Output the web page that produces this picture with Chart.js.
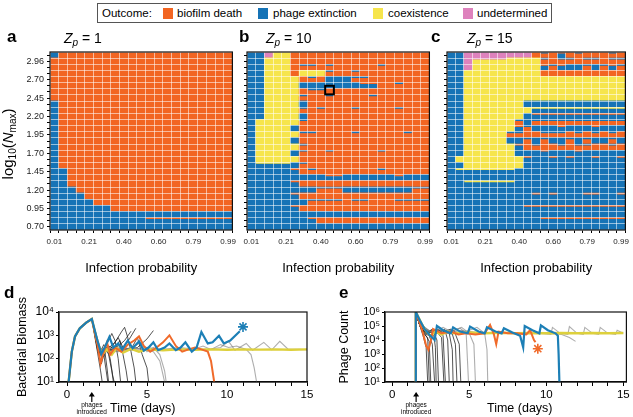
<!DOCTYPE html>
<html>
<head>
<meta charset="utf-8">
<title>Phage outcome maps</title>
<script src="https://cdn.jsdelivr.net/npm/chart.js@4.4.1/dist/chart.umd.min.js"></script>
<style>
  body { margin:0; width:633px; height:417px; position:relative; overflow:hidden; background:#fff;
         font-family:"Liberation Sans", Arial, sans-serif; color:#000; }
  canvas { position:absolute; }
  .txt { position:absolute; white-space:nowrap; line-height:1; }
  .panel { font-weight:bold; font-size:17px; }
  .zt { font-size:14px; }
  .zt sub, .ylab sub { font-size:10px; vertical-align:-3px; }
  .ylab { font-size:15px; width:130px; text-align:center; transform:rotate(-90deg); }
  .tt { font-size:12.5px; }
  #legend { position:absolute; border:1px solid #555; box-sizing:border-box; }
  #legend span { position:absolute; top:3px; font-size:11.5px; white-space:nowrap; }
  #legend i { position:absolute; top:4px; width:10px; height:11px; }
</style>
</head>
<body>
<canvas id="heatA" width="240" height="250" style="left:0;top:30px"></canvas>
<canvas id="heatB" width="240" height="250" style="left:197px;top:30px"></canvas>
<canvas id="heatC" width="236" height="250" style="left:397px;top:30px"></canvas>
<canvas id="biomass" width="316" height="127" style="left:0;top:290px"></canvas>
<canvas id="phages" width="317" height="127" style="left:316px;top:290px"></canvas>

<div id="legend" style="left:97px;top:3px;width:455px;height:20px">
  <span style="left:4px">Outcome:</span>
  <i style="left:65px;background:#f26522"></i><span style="left:79px">biofilm death</span>
  <i style="left:160px;background:#1673b6"></i><span style="left:175px">phage extinction</span>
  <i style="left:275px;background:#f6e54c"></i><span style="left:290px">coexistence</span>
  <i style="left:365px;background:#de82bd"></i><span style="left:379px">undetermined</span>
</div>

<div class="txt panel" style="left:7px;top:28px">a</div>
<div class="txt panel" style="left:239px;top:28px">b</div>
<div class="txt panel" style="left:431px;top:28px">c</div>
<div class="txt zt" style="left:64px;top:31px"><i>Z</i><sub><i>p</i></sub> = 1</div>
<div class="txt zt" style="left:266px;top:31px"><i>Z</i><sub><i>p</i></sub> = 10</div>
<div class="txt zt" style="left:467px;top:31px"><i>Z</i><sub><i>p</i></sub> = 15</div>
<div class="txt ylab" style="left:-56px;top:135px">log<sub>10</sub>(<i>N</i><sub>max</sub>)</div>

<div class="txt panel" style="left:4px;top:284px">d</div>
<div class="txt panel" style="left:339px;top:284px">e</div>
<div class="txt tt" style="left:110px;top:402px">Time (days)</div>
<div class="txt tt" style="left:487px;top:402px">Time (days)</div>

<script>
// ---- heat maps -------------------------------------------------------
// columns = infection probability, rows = log10(Nmax), top row first
const probCats = ['0.01','0.06','0.11','0.16','0.21','0.26','0.30','0.35','0.40','0.45','0.50',
                  '0.55','0.60','0.65','0.70','0.75','0.79','0.84','0.89','0.94','0.99'];
const xTickLabels = ['0.01','0.21','0.40','0.60','0.79','0.99'];
const yTickLabels = ['0.70','0.95','1.20','1.45','1.70','1.95','2.20','2.45','2.70','2.96'];

// o = biofilm death, b = phage extinction, y = coexistence, p = undetermined
// upper case = cell split between two outcomes (lower part / upper strip)
const mixedCells = { O: 'ob', B: 'bo', Y: 'yb', W: 'by', P: 'yp' };

const outcomesZ1 = [
  'boooooooooooooooooooo',
  'ooooooooooooooooooooo',
  'ooooooooooooooooooooo',
  'ooooooooooooooooooooo',
  'ooooooooooooooooooooo',
  'ooooooooooooooooooooo',
  'ooooooooooooooooooooo',
  'ooooooooooooooooooooo',
  'boooooooooooooooooooo',
  'boooooooooooooooooooo',
  'boooooooooooooooooooo',
  'boooooooooooooooooooo',
  'boooooooooooooooooooo',
  'boooooooooooooooooooo',
  'boooooooooooooooooooo',
  'boooooooooooooooooooo',
  'boooooooooooooooooooo',
  'boooooooooooooooooooo',
  'boooooooooooooooooooo',
  'bbooooooooooooooooooo',
  'bbooooooooooooooooooo',
  'bbooooooooooooooooooo',
  'bbboooooooooooooooooo',
  'bbbbooooooooooooooooo',
  'bbbbboooooooooooooooo',
  'bbbbbbboooooooooooooo',
  'bbbbbbbbbbbbbbbbbbbbb',
  'bbbbbbbbbbbBBBBBBBBBB',
  'bbbbbbbbbbbbbbbbbbbbb'
];

const outcomesZ10 = [
  'bbpyyoooooooooooooooo',
  'bbyyyoooooooooooooooo',
  'bbyyyoOOoOoooooOooooo',
  'bbyyyoyyyOooOoooooooo',
  'bbyyyyoOobbbOOooooooo',
  'bbyyyybbbbbbbBBooOooo',
  'bbyyyyoOOoooooooooooo',
  'bbyyyyOooOooooOoooooo',
  'bbyyyyboooooooooooooo',
  'bbyyyyOoOoooOooooOooo',
  'bbyyyyboooooooooooooo',
  'byyyyyOoooooooooooooo',
  'byyyybooooooooooooooo',
  'byyyyyOOooooOoooooOoo',
  'byyyybooooooooooooooo',
  'byyyyyOoooooooooooooo',
  'byyyybOooOoooooOooooo',
  'byyyyyooooooooooooooo',
  'bWWWWbOoooooooooooooo',
  'bbbbbBoOoooooooOooooo',
  'bbbbbbbbbBBbbbbbbBbbb',
  'bbbbbBooooooooooooooo',
  'bbbbbbbbOOObbbbbbbbOO',
  'bbbbbBooooooooooooooo',
  'bbbbbbbOOOOoOOoooOOOO',
  'bbbbbBooooooooooooooo',
  'bbbbbbbbbbbbbbbbbbbbb',
  'bbbbbbbBooooooooooooo',
  'bbbbbbbbbbbbbbbbbbbbb'
];

const outcomesZ15 = [
  'bbppppppppoOoBoOoooOo',
  'bbpPPPPyyyyOoOOoOOoOO',
  'bbpyyyyyyyyBOBbbObOBO',
  'bbyyyyyyyyyoooooooooo',
  'bbyyyyyyyyyyyyyyyyyyy',
  'bbyyyyyyyyyyyyyyyyyyy',
  'bbyyyyyyyyyyyyyyyyyyy',
  'bbyyyyyyyyyyyyyyyyyyy',
  'bbyyyyyyybbbbbbbbbbbb',
  'bbyyyyyyyyWWWWWWWWWWW',
  'bbyyyyyyybBBBBBBBBBBB',
  'bbyyyyyyObOOOOOOOOOOO',
  'bbyyyyyyBObbbBbbbBbbb',
  'bbyyyyyOOooOOOoOoOoOo',
  'bbyyyyybbObObbObObbOb',
  'bbyyyyyyBoOooOoOOooOo',
  'bbyyyyyybbbBbbbBbbbbb',
  'byyyyyyyyBbbBbBbbBbbB',
  'bbyyyyyyybbbbbbbbbbbb',
  'bWWWWWWWbbbbbbbbbbbbb',
  'bbbbbbbbbbbbbbbbbbbbb',
  'bbWWWWWWbbbbbbbbbbbbb',
  'bbbbbbbbbbbbbbbbbbbbb',
  'bbbbbbbbbbBbBbbbBBbbB',
  'bbbbbbbbbbbbbbbbbbbbb',
  'bbbbbbbbbBBBBBBBBBBBB',
  'bbbbbbbbbbbbbbbbbbbbb',
  'bbbbbbbbbbbBBBBBBBBBB',
  'bbbbbbbbbbbbbbbbbbbbb'
];

// ---- time courses (day, value) --------------------------------------
const phageDay = 1.55;
const bioTicks = [10, 100, 1000, 10000];
const bioTickLabels = ['10¹', '10²', '10³', '10⁴'];
const phTicks = [10, 100, 1000, 1e4, 1e5, 1e6];
const phTickLabels = ['10¹', '10²', '10³', '10⁴', '10⁵', '10⁶'];

const biomassRise = [[0.1,10],[0.3,200],[0.5,900],[0.8,2000],[1.2,3500],[1.55,5000]];
const bioBlue = [[1.9,600],[2.15,160],[2.4,350],[2.65,850],[2.9,300],[3.2,450],[3.45,250],[3.8,600],
  [4.1,280],[4.5,550],[4.8,220],[5.1,300],[5.4,500],[5.7,230],[6.1,300],[6.4,450],[6.8,230],[7.1,300],
  [7.4,500],[7.8,200],[8.1,300],[8.4,1400],[8.8,450],[9.1,500],[9.5,950],[9.8,450],[10.2,600],[10.8,1500]];
const bioOrange = [[1.9,400],[2.1,60],[2.3,200],[2.5,500],[2.7,150],[3.0,300],[3.4,200],[3.8,400],
  [4.2,600],[4.5,900],[4.8,350],[5.2,200],[5.6,300],[6.0,500],[6.4,1000],[6.8,350],[7.2,200],[7.6,250],
  [8.0,300],[8.4,250],[8.8,200],[9.0,80],[9.2,10]];
const bioYellow = [[1.9,500],[2.2,150],[2.5,250],[2.8,150],[3.1,280],[3.5,180],[4.0,260],[4.5,200],
  [5.0,250],[6.0,230],[7.0,250],[8.0,240],[9.0,250],[10.0,240],[11.0,250],[12.0,245],[13.0,250],
  [14.0,240],[15.0,250]];
const bioGrayA = [[2.0,300],[2.5,200],[3,250],[4,230],[5,250],[6,240],[7,260],[8,250],[9,260],[9.6,300],
  [10.1,550],[10.5,230],[11.2,450],[11.6,230],[12.3,500],[12.8,240],[13.3,550],[13.8,260],[14.5,250],[15,240]];
const bioGrayB = [[2.0,250],[2.6,300],[3.2,200],[4,250],[5,300],[6,250],[7,300],[8,260],[8.5,350],[9,250],
  [9.6,400],[10.1,300],[10.6,350],[11.2,250],[11.5,150],[11.7,40],[11.85,10]];
const bioGrayC = [[2.1,250],[3,200],[4,300],[4.8,250],[5.4,200],[5.8,80],[6.0,20],[6.1,10]];
const bioGrayD = [[2.1,230],[3,300],[3.9,250],[4.6,500],[5.0,200],[5.4,300],[5.8,150],[6.1,30],[6.2,10]];
const bioDark1 = [[1.9,200],[2.1,30],[2.2,10]];
const bioDark2 = [[1.9,300],[2.2,100],[2.35,250],[2.5,40],[2.6,10]];
const bioDark3 = [[2.0,150],[2.3,400],[2.6,150],[2.8,30],[2.9,10]];
const bioDark4 = [[2.0,200],[2.4,300],[2.8,1200],[3.0,600],[3.2,100],[3.35,10]];
const bioDark5 = [[2.0,150],[2.5,250],[3.0,500],[3.4,1400],[3.6,2200],[3.8,800],[4.0,200],[4.2,40],[4.3,10]];
const bioDark6 = [[2.0,200],[2.6,200],[3.1,300],[3.6,600],[4.0,1500]];
const bioDark7 = [[2.0,180],[2.8,250],[3.5,300],[4.0,250],[4.4,800],[4.7,150],[5.0,40],[5.1,10]];
const bioDark8 = [[2.1,200],[3,250],[3.8,250],[4.4,300],[5.0,700],[5.4,1600]];
const bioDark9 = [[1.9,250],[2.15,60],[2.3,150],[2.45,30],[2.55,10]];
const bioDark10 = [[2.0,200],[2.3,120],[2.5,300],[2.7,100],[2.85,20],[2.95,10]];
const bioDark11 = [[2.0,180],[2.6,350],[3.0,250],[3.3,600],[3.5,150],[3.7,30],[3.8,10]];
const bioDark12 = [[2.0,220],[2.7,250],[3.2,800],[3.5,300],[3.9,700],[4.3,2000]];
const bioStar = [[11.0,2300]];

const phageStart = [[1.5,10],[1.53,1e6]];
const phBlue = [[1.8,2.5e5],[2.1,6e4],[2.4,2.5e4],[2.75,1e4],[2.9,1e5],[3.3,5e4],[3.8,3e4],[3.95,8e4],
  [4.4,4e4],[4.9,3e4],[5.05,9e4],[5.6,4e4],[6.0,3e4],[6.15,8e4],[6.7,4e4],[7.1,3e4],[7.25,7e4],[7.8,3.5e4],
  [8.3,2e4],[8.5,3e3],[8.6,1e5],[9.1,5e4],[9.55,3e4],[9.65,1.1e5],[10.1,5e4],[10.6,3e4],[10.75,2e4],
  [10.8,1e3],[10.85,10]];
const phOrange = [[1.8,1.5e5],[2.0,3e4],[2.2,4e3],[2.35,2e3],[2.5,8e3],[2.65,6e4],[3.2,3e4],[3.8,4e4],
  [4.3,2.5e4],[4.8,3e4],[5.4,2.5e4],[6.0,3e4],[6.35,1.2e5],[6.6,2.5e4],[6.75,5e3],[6.9,4e4],[7.5,3e4],
  [8.1,3e4],[8.7,2.5e4],[8.95,5e4],[9.2,1e4],[9.3,7e3]];
const phYellow = [[1.9,1.5e5],[2.2,4e4],[2.5,2e4],[2.8,4e4],[3.2,2.5e4],[3.6,4e4],[4.0,3e4],[5.0,3.5e4],
  [6.0,3e4],[7.0,3.3e4],[8.0,3e4],[9.0,3.2e4],[10.0,3e4],[11.0,3.2e4],[12.0,3e4],[13.0,3.2e4],[14.0,3e4],[15.0,3.2e4]];
const phGrayA = [[1.9,1.2e5],[2.5,4e4],[3.5,3e4],[4.5,5e4],[5.5,3e4],[7,3e4],[8.5,3e4],[9.5,3e4],[10.3,2.5e4],
  [10.4,8e4],[10.9,3e4],[11.4,2.5e4],[11.5,9e4],[12.0,3e4],[12.4,2.5e4],[12.5,8e4],[13.0,3e4],[13.4,2.5e4],
  [13.5,8e4],[14.0,3e4],[14.5,2.5e4],[14.6,5e4],[15,3e4]];
const phGrayB = [[1.9,1.2e5],[2.6,3e4],[3.3,8e4],[4,3e4],[5,4e4],[6,3e4],[7,3e4],[8,3e4],[9,3e4],[10,3e4],
  [11,2.5e4],[11.5,1.5e4],[11.9,8e3]];
const phGrayC = [[1.8,1e5],[2.4,4e4],[3.5,3e4],[4.5,8e4],[5.0,3e4],[5.3,5e3],[5.4,10]];
const phGrayD = [[1.8,1e5],[2.4,4e4],[3.5,5e4],[4.5,3e4],[5.5,8e4],[6.0,3e4],[6.15,2e3],[6.2,10]];
const phGrayE = [[1.8,1e5],[2.5,4e4],[3.5,3e4],[4.4,7e4],[4.8,3e4],[4.95,10]];
const phDark1 = [[1.8,1e5],[2.0,2e4],[2.2,3e3],[2.3,10]];
const phDark2 = [[1.8,1e5],[2.1,3e4],[2.4,8e3],[2.5,10]];
const phDark3 = [[1.8,1e5],[2.1,3e4],[2.4,2e4],[2.6,5e3],[2.75,10]];
const phDark4 = [[1.8,1e5],[2.2,3e4],[2.6,6e4],[2.9,1e4],[3.0,10]];
const phDark5 = [[1.8,1e5],[2.2,3e4],[2.8,5e4],[3.2,1.5e4],[3.35,10]];
const phDark6 = [[1.8,1e5],[2.3,4e4],[3.0,3e4],[3.4,6e4],[3.6,1e4],[3.7,10]];
const phDark7 = [[1.8,1e5],[2.3,4e4],[3.0,3e4],[3.8,6e4],[4.1,5e3],[4.2,10]];
const phDark8 = [[1.8,1e5],[2.3,4e4],[3.2,3e4],[4.0,5e4],[4.35,5e3],[4.45,10]];
const phDark9 = [[1.8,1e5],[2.0,3e4],[2.3,1.5e4],[2.4,10]];
const phDark10 = [[1.8,1e5],[2.2,3e4],[2.7,2e4],[2.8,3e3],[2.85,10]];
const phDark11 = [[1.8,1e5],[2.3,4e4],[3.0,6e4],[3.3,2e4],[3.45,10]];
const phDark12 = [[1.8,1e5],[2.3,4e4],[3.2,5e4],[3.7,3e4],[3.9,2e3],[3.95,10]];
const phStar = [[9.45,2.4e3]];

// ---- styling ---------------------------------------------------------
const outcomeColors = { o: '#f26522', b: '#1673b6', y: '#f6e54c', p: '#de82bd' };
const blueLine = '#1c7fb6', orangeLine = '#f06a2a', yellowLine = '#ddd03c';
const darkLine = 'rgba(25,25,25,0.75)', grayLine = 'rgba(120,120,120,0.6)';
const cellGrid = 'rgba(255,255,255,0.55)';
const markedCell = { col: 9, bottom: 22.1, top: 23.5 };
const baseFont = '"Liberation Sans", Arial, sans-serif';
Chart.defaults.font.family = baseFont;
Chart.defaults.color = '#000';

const frameBox = {
  id: 'frameBox',
  afterDraw(chart) {
    const a = chart.chartArea, ctx = chart.ctx;
    ctx.save();
    ctx.strokeStyle = '#111';
    ctx.lineWidth = 1.2;
    ctx.strokeRect(a.left, a.top, a.right - a.left, a.bottom - a.top);
    ctx.restore();
  }
};

const highlightCell = {
  id: 'highlightCell',
  afterDraw(chart) {
    const x = chart.scales.x, y = chart.scales.y, ctx = chart.ctx;
    const half = (x.getPixelForValue(1) - x.getPixelForValue(0)) / 2;
    const cx = x.getPixelForValue(markedCell.col);
    const top = y.getPixelForValue(markedCell.top), bot = y.getPixelForValue(markedCell.bottom);
    ctx.save();
    ctx.strokeStyle = '#000';
    ctx.lineWidth = 2;
    ctx.strokeRect(cx - half, top, 2 * half, bot - top);
    ctx.restore();
  }
};

const phageArrow = {
  id: 'phageArrow',
  afterDraw(chart) {
    const ctx = chart.ctx;
    const x = chart.scales.x.getPixelForValue(phageDay);
    const y0 = chart.chartArea.bottom + 10;
    ctx.save();
    ctx.strokeStyle = '#000';
    ctx.fillStyle = '#000';
    ctx.lineWidth = 1.2;
    ctx.beginPath(); ctx.moveTo(x, y0 + 10); ctx.lineTo(x, y0 + 3); ctx.stroke();
    ctx.beginPath(); ctx.moveTo(x, y0); ctx.lineTo(x - 3, y0 + 4.5); ctx.lineTo(x + 3, y0 + 4.5); ctx.closePath(); ctx.fill();
    ctx.font = '6.5px ' + baseFont;
    ctx.textAlign = 'center';
    ctx.fillText('phages', x, y0 + 15);
    ctx.fillText('introduced', x, y0 + 22);
    ctx.restore();
  }
};

function cellParts(code) {
  return mixedCells[code] || code + code;
}

function heatDatasets(rows) {
  const sets = [];
  for (let r = rows.length - 1; r >= 0; r--) {
    const cells = rows[r].split('');
    sets.push({
      data: cells.map(c => mixedCells[c] ? 0.72 : 1),
      backgroundColor: cells.map(c => outcomeColors[cellParts(c)[0]])
    });
    sets.push({
      data: cells.map(c => mixedCells[c] ? 0.28 : 0),
      backgroundColor: cells.map(c => outcomeColors[cellParts(c)[1]])
    });
  }
  return sets;
}

function heatMap(id, rows, showYLabels, padRight, extra) {
  const nRows = rows.length;
  const rowIdx = rows.map((r, i) => i);
  return new Chart(document.getElementById(id), {
    type: 'bar',
    data: { labels: probCats, datasets: heatDatasets(rows) },
    options: {
      responsive: false,
      animation: false,
      layout: { padding: { top: 22, right: padRight, left: 0, bottom: 0 } },
      plugins: { legend: { display: false }, tooltip: { enabled: false } },
      datasets: { bar: { barPercentage: 1, categoryPercentage: 1, borderWidth: 0 } },
      scales: {
        x: {
          stacked: true,
          grid: { color: cellGrid, tickColor: '#000', tickLength: 3, offset: true, z: 1 },
          border: { display: false },
          ticks: {
            autoSkip: false, maxRotation: 0, padding: 4, color: '#222', font: { size: 8 },
            callback: (v, i) => xTickLabels.includes(probCats[i]) ? probCats[i] : ''
          },
          title: { display: true, text: 'Infection probability', font: { size: 13 }, padding: { top: 0, bottom: 4 } },
          afterFit: s => { s.height = 50; }
        },
        y: {
          stacked: true, min: 0, max: nRows,
          grid: { color: cellGrid, drawTicks: false, z: 1 },
          border: { display: false },
          ticks: { display: false, stepSize: 1 },
          afterFit: s => { s.width = 0; }
        },
        yl: {
          position: 'left', min: -0.5, max: nRows - 0.5,
          grid: { drawOnChartArea: false, tickLength: 3, tickColor: '#000' },
          border: { display: false },
          afterBuildTicks: s => { s.ticks = rowIdx.map(v => ({ value: v })); },
          ticks: {
            autoSkip: false, padding: 3, color: '#222', font: { size: 9 },
            callback: v => (showYLabels && v % 3 === 0) ? yTickLabels[v / 3] : ''
          },
          afterFit: s => { s.width = 50; }
        }
      }
    },
    plugins: [frameBox].concat(extra || [])
  });
}

heatMap('heatA', outcomesZ1, true, 7);
heatMap('heatB', outcomesZ10, false, 6, [highlightCell]);
heatMap('heatC', outcomesZ15, false, 3);

// ---- line charts -----------------------------------------------------
function line(points, color, width) {
  return { type: 'line', data: points.map(p => ({ x: p[0], y: p[1] })), borderColor: color,
           borderWidth: width, pointRadius: 0, tension: 0, fill: false };
}
function star(points, color) {
  return { type: 'scatter', data: points.map(p => ({ x: p[0], y: p[1] })), pointStyle: 'star',
           pointRadius: 5, borderColor: color, borderWidth: 1.6 };
}

function timeChart(id, datasets, cfg) {
  return new Chart(document.getElementById(id), {
    type: 'line',
    data: { datasets },
    options: {
      responsive: false,
      animation: false,
      layout: { padding: { top: 22, right: cfg.padRight, left: 0, bottom: 0 } },
      plugins: { legend: { display: false }, tooltip: { enabled: false } },
      scales: {
        x: {
          type: 'linear', min: cfg.xMin, max: cfg.xMax,
          grid: { drawOnChartArea: false, tickLength: 4, tickColor: '#000' },
          border: { color: '#000', width: 1.2 },
          ticks: { stepSize: 1, autoSkip: false, includeBounds: false, maxRotation: 0, padding: 2,
                   font: { size: 11.5 }, callback: v => v % 5 === 0 ? String(v) : '' },
          afterFit: s => { s.height = 35; }
        },
        y: {
          type: 'logarithmic', min: cfg.ticks[0], max: cfg.ticks[cfg.ticks.length - 1],
          grid: { drawOnChartArea: false, tickLength: 3, tickColor: '#000' },
          border: { color: '#000', width: 1.2 },
          afterBuildTicks: s => { s.ticks = cfg.ticks.map(v => ({ value: v })); },
          ticks: { autoSkip: false, padding: 2, font: { size: cfg.tickSize },
                   callback: v => cfg.labels[cfg.ticks.indexOf(v)] },
          title: { display: true, text: cfg.title, font: { size: 12.5 }, padding: { top: cfg.titlePad, bottom: 0 } },
          afterFit: s => { s.width = cfg.leftWidth; }
        }
      }
    },
    plugins: [frameBox, phageArrow]
  });
}

const rise = s => biomassRise.concat(s);
timeChart('biomass', [
  star(bioStar, blueLine),
  line(rise(bioBlue), blueLine, 2.2),
  line(rise(bioOrange), orangeLine, 2),
  line(rise(bioYellow), yellowLine, 2.4),
  line(rise(bioGrayA), grayLine, 1.1),
  line(rise(bioGrayB), grayLine, 1.1),
  line(rise(bioGrayC), grayLine, 1.1),
  line(rise(bioGrayD), grayLine, 1.1),
  line(rise(bioDark1), darkLine, 1),
  line(rise(bioDark2), darkLine, 1),
  line(rise(bioDark3), darkLine, 1),
  line(rise(bioDark4), darkLine, 1),
  line(rise(bioDark5), darkLine, 1),
  line(rise(bioDark6), darkLine, 1),
  line(rise(bioDark7), darkLine, 1),
  line(rise(bioDark8), darkLine, 1),
  line(rise(bioDark9), darkLine, 1),
  line(rise(bioDark10), darkLine, 1),
  line(rise(bioDark11), darkLine, 1),
  line(rise(bioDark12), darkLine, 1)
], { xMin: -0.5, xMax: 15, ticks: bioTicks, labels: bioTickLabels, title: 'Bacterial Biomass',
     titlePad: 15, leftWidth: 59, padRight: 9, tickSize: 12 });

const burst = s => phageStart.concat(s);
timeChart('phages', [
  star(phStar, orangeLine),
  line(burst(phBlue), blueLine, 2.2),
  line(burst(phOrange), orangeLine, 2),
  line(burst(phYellow), yellowLine, 2.4),
  line(burst(phGrayA), grayLine, 1.1),
  line(burst(phGrayB), grayLine, 1.1),
  line(burst(phGrayC), grayLine, 1.1),
  line(burst(phGrayD), grayLine, 1.1),
  line(burst(phGrayE), grayLine, 1.1),
  line(burst(phDark1), darkLine, 1),
  line(burst(phDark2), darkLine, 1),
  line(burst(phDark3), darkLine, 1),
  line(burst(phDark4), darkLine, 1),
  line(burst(phDark5), darkLine, 1),
  line(burst(phDark6), darkLine, 1),
  line(burst(phDark7), darkLine, 1),
  line(burst(phDark8), darkLine, 1),
  line(burst(phDark9), darkLine, 1),
  line(burst(phDark10), darkLine, 1),
  line(burst(phDark11), darkLine, 1),
  line(burst(phDark12), darkLine, 1)
], { xMin: -0.47, xMax: 15.2, ticks: phTicks, labels: phTickLabels, title: 'Phage Count',
     titlePad: 21, leftWidth: 69, padRight: 3, tickSize: 11 });
</script>
</body>
</html>
